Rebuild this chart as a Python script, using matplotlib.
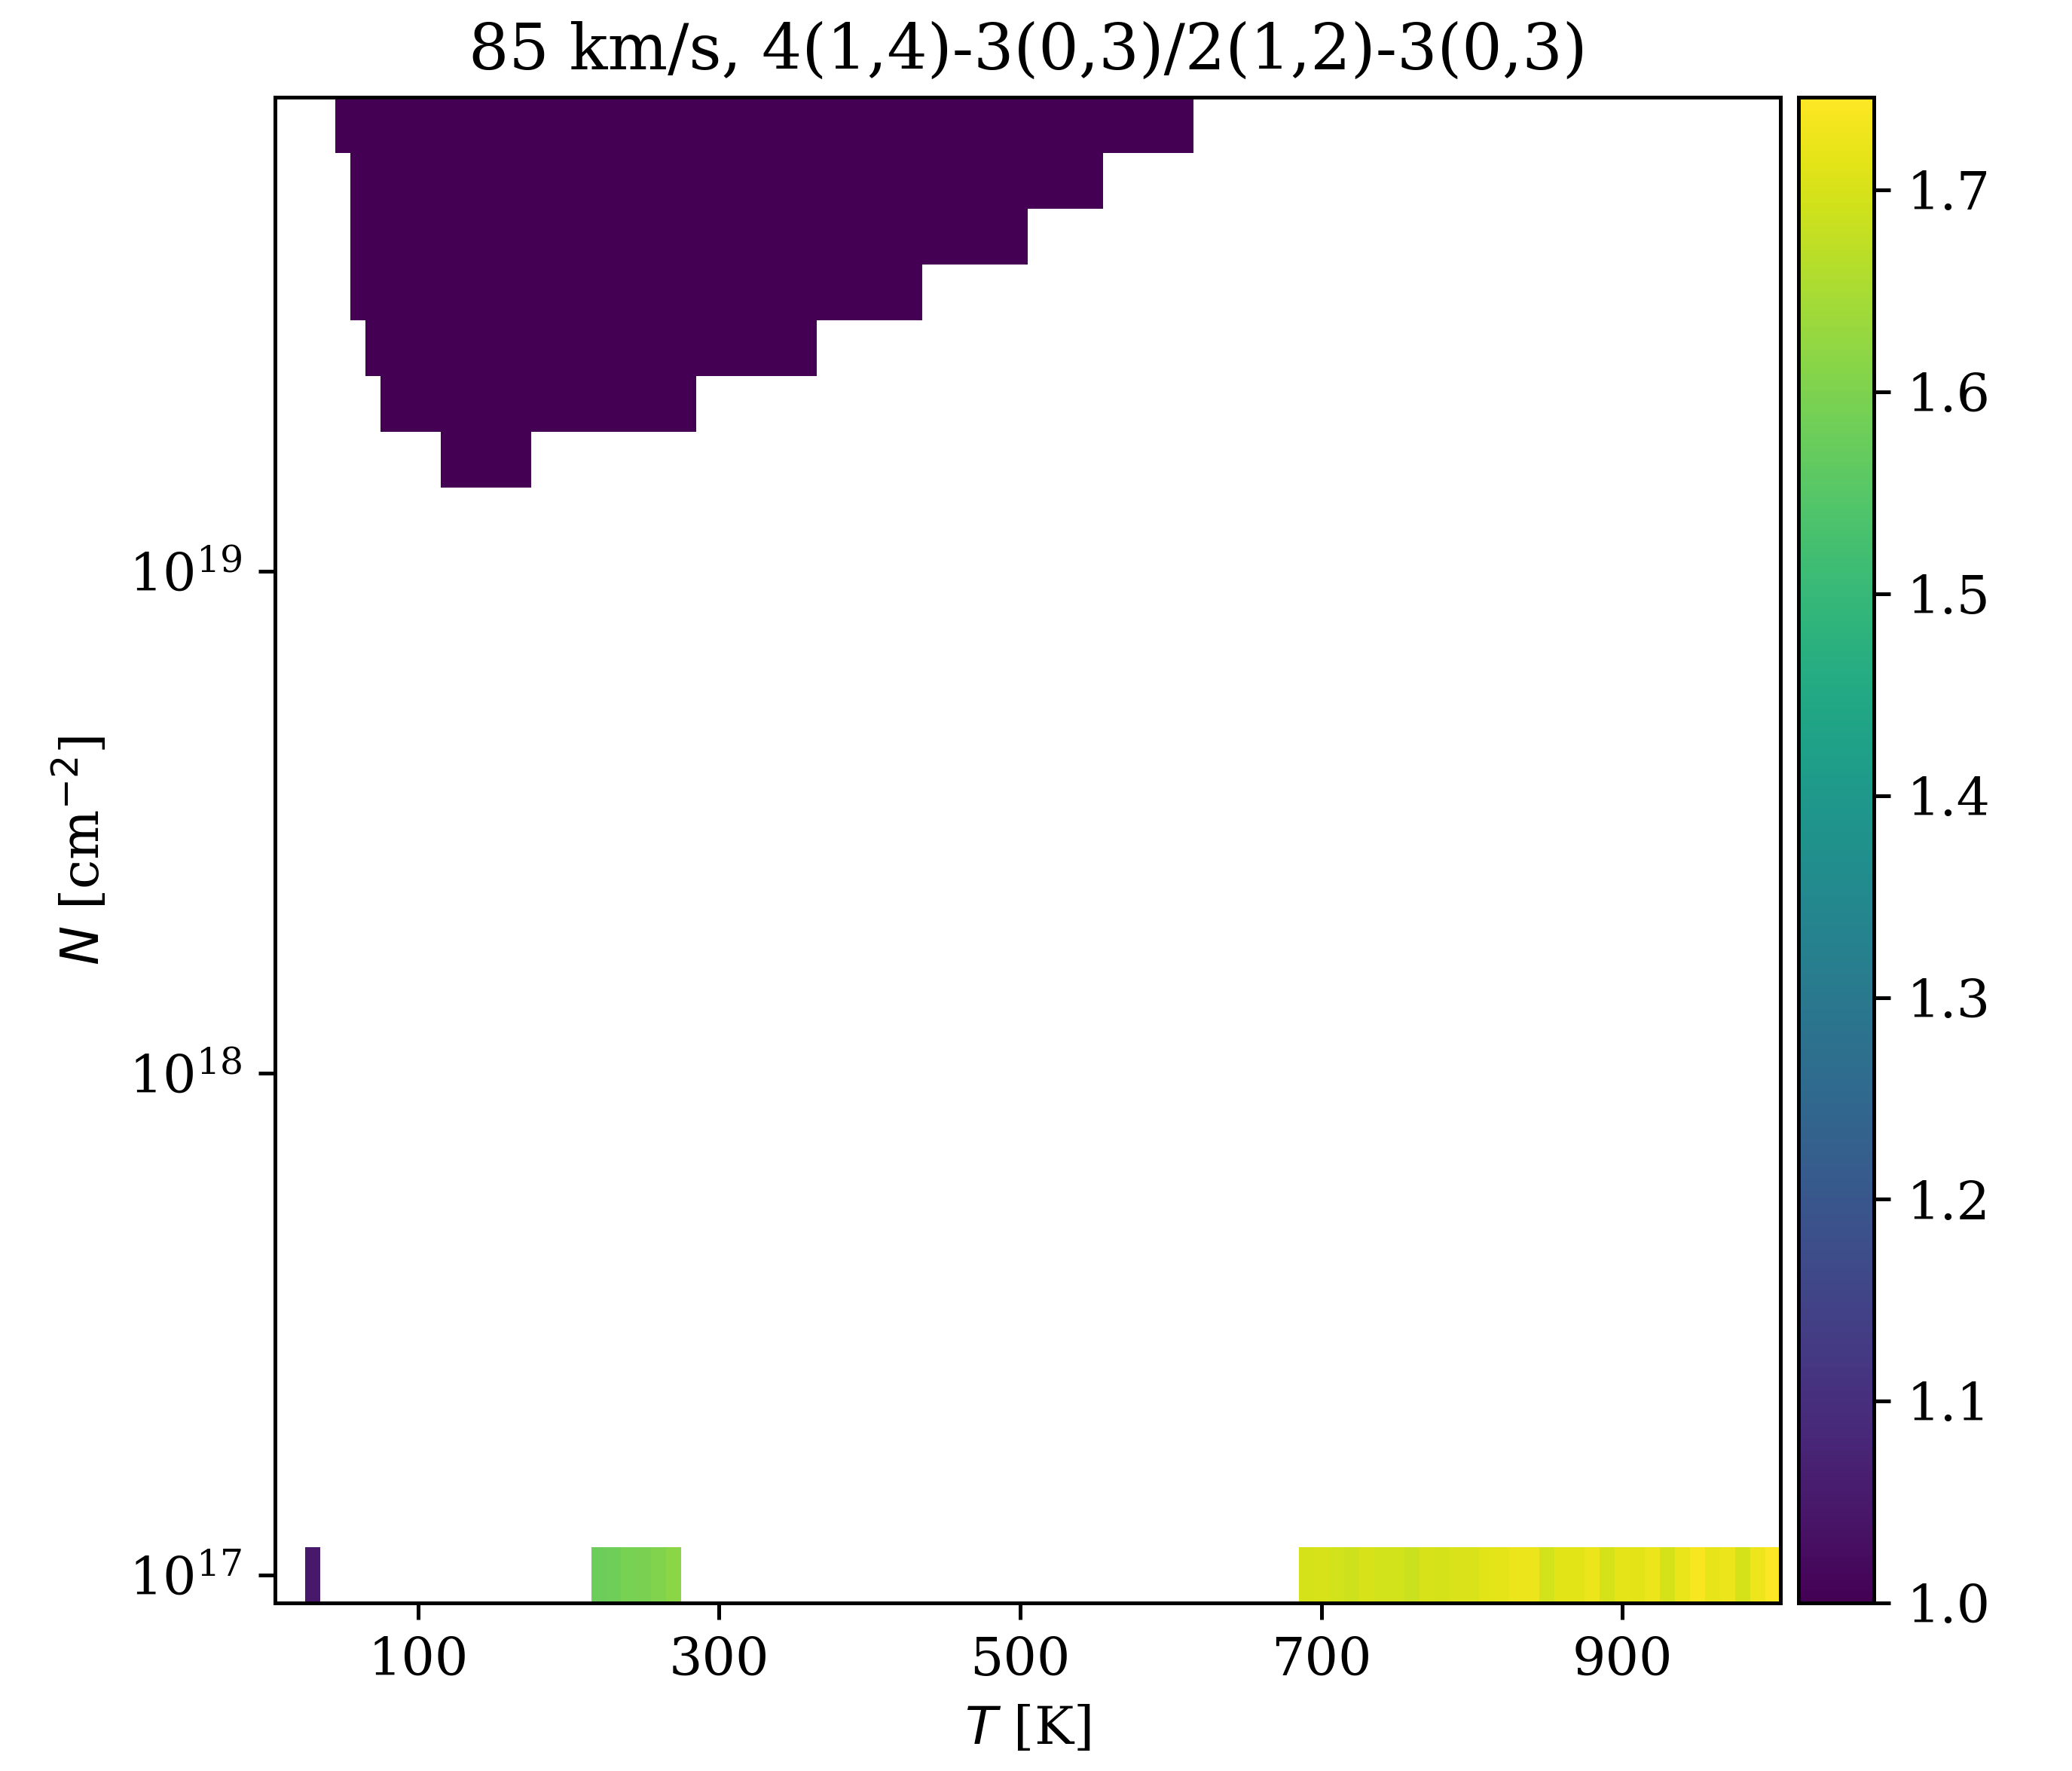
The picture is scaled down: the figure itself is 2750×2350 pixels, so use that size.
import numpy as np
import matplotlib
matplotlib.use("Agg")
import matplotlib.pyplot as plt
from matplotlib.ticker import NullLocator

plt.rcParams['font.family'] = 'serif'
plt.rcParams['font.size'] = 11.2

# model grid: temperature [K] and log10 column density
T = np.arange(10, 1001, 10)
logN = np.linspace(17, 19 + 8 / 9, 27)

# top block (high N): row index, first/last temperature with a solution
top_rows = [26, 25, 24, 23, 22, 21, 20]
top_Tmin = [50, 60, 60, 60, 70, 80, 120]
top_Tmax = [610, 550, 500, 430, 360, 280, 170]
top_ratio = 1.0

# bottom row (N = 1e17)
low_T = [30] + list(range(220, 271, 10)) + list(range(690, 1001, 10))
low_ratio = [1.048,
             1.578, 1.582, 1.593, 1.597, 1.604, 1.615,
             1.698, 1.701, 1.694, 1.690, 1.701, 1.694, 1.694, 1.686,
             1.701, 1.698, 1.705, 1.705, 1.712, 1.716, 1.724, 1.724,
             1.694, 1.712, 1.712, 1.724, 1.698, 1.716, 1.712, 1.724,
             1.698, 1.722, 1.739, 1.718, 1.724, 1.698, 1.727, 1.746]

# fill the grid
Z = np.full((len(logN), len(T)), np.nan)
for r, t0, t1 in zip(top_rows, top_Tmin, top_Tmax):
    Z[r, (T >= t0) & (T <= t1)] = top_ratio
for t, v in zip(low_T, low_ratio):
    Z[0, T == t] = v

# cell edges (log-centred in N)
dT = T[1] - T[0]
T_edges = np.append(T - dT / 2, T[-1] + dT / 2)
dl = logN[1] - logN[0]
N_edges = 10 ** np.append(logN - dl / 2, logN[-1] + dl / 2)

fig = plt.figure(figsize=(2750 / 450, 2350 / 450), dpi=450)
ax = fig.add_axes([0.1327, 0.0949, 0.7266, 0.8502])
cax = fig.add_axes([0.868, 0.0949, 0.0364, 0.8502])

mesh = ax.pcolormesh(T_edges, N_edges, np.ma.masked_invalid(Z), cmap='viridis')
ax.set_yscale('log')
ax.yaxis.set_minor_locator(NullLocator())
ax.set_xlim(T_edges[0], T_edges[-1])
ax.set_ylim(N_edges[0], N_edges[-1])
ax.set_xticks([100, 300, 500, 700, 900])
ax.set_xlabel(r'$T$ [K]')
ax.set_ylabel(r'$N$ [cm$^{-2}$]')
ax.set_title('85 km/s, 4(1,4)-3(0,3)/2(1,2)-3(0,3)')

fig.colorbar(mesh, cax=cax)

fig.savefig('out.png', dpi=450)
